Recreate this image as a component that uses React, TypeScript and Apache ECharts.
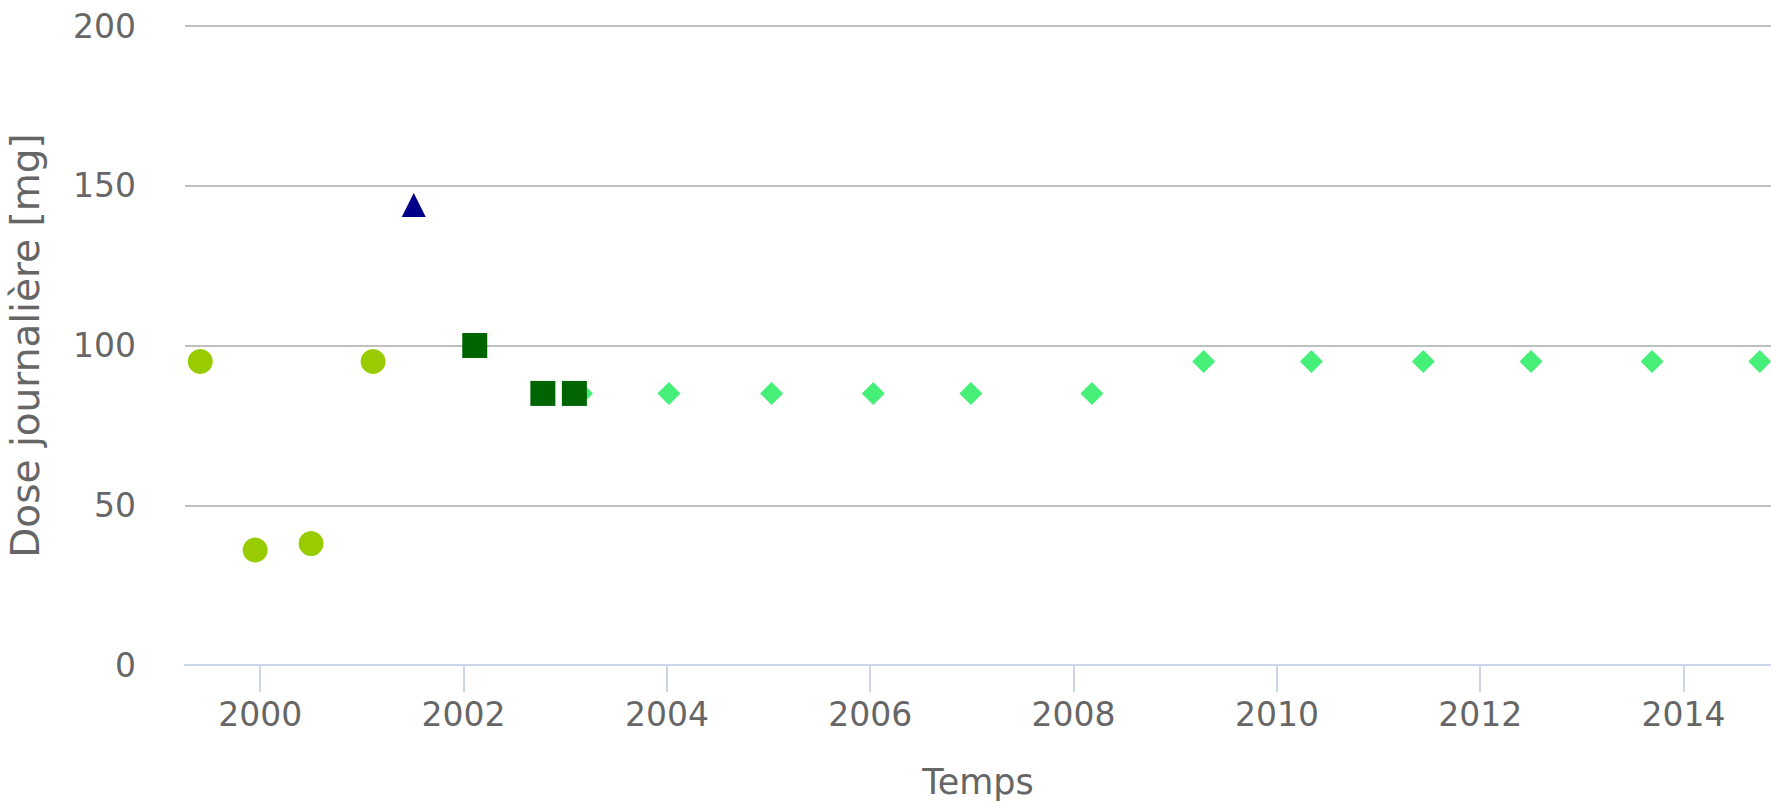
import React, { useEffect, useRef } from "react";
import * as echarts from "echarts";

// Tick labels
const xTickValues = [2000, 2002, 2004, 2006, 2008, 2010, 2012, 2014];

// Series: circles (yellow-green)
const circleYears = [1999.41, 1999.95, 2000.5, 2001.11];
const circleDoses = [95, 36, 38, 95];

// Series: triangle (navy)
const triangleYears = [2001.51];
const triangleDoses = [144];

// Series: squares (dark green)
const squareYears = [2002.11, 2002.78, 2003.09];
const squareDoses = [100, 85, 85];

// Series: diamonds (light green)
const diamondYears = [2003.16, 2004.02, 2005.03, 2006.03, 2006.99, 2008.18, 2009.28, 2010.34, 2011.44, 2012.5, 2013.69, 2014.75];
const diamondDoses = [85, 85, 85, 85, 85, 85, 95, 95, 95, 95, 95, 95];

const pairs = (xs: number[], ys: number[]) => xs.map((x, i) => [x, ys[i]]);

const FONT = "DejaVu Sans";

export default function App() {
  const ref = useRef<HTMLDivElement>(null);
  useEffect(() => {
    if (!ref.current) return;
    const chart = echarts.init(ref.current, undefined, { renderer: "svg" });
    chart.setOption({
      animation: false,
      backgroundColor: "#ffffff",
      grid: { left: 185, right: 0, top: 26, bottom: 139, containLabel: false, outerBoundsMode: "none" },
      xAxis: {
        type: "value",
        min: 1999.26,
        max: 2014.86,
        name: "Temps",
        nameLocation: "middle",
        nameGap: 99,
        nameTextStyle: { color: "#666666", fontSize: 35, fontFamily: FONT },
        axisLine: { show: true, onZero: false, lineStyle: { color: "#ccd6eb", width: 2 } },
        axisTick: { show: true, customValues: xTickValues, length: 27, lineStyle: { color: "#ccd6eb", width: 2 } },
        axisLabel: {
          customValues: xTickValues,
          margin: 33,
          color: "#666666",
          fontSize: 33,
          fontFamily: FONT,
          formatter: (v: number) => String(Math.round(v)),
        },
        splitLine: { show: false },
      },
      yAxis: {
        type: "value",
        min: 0,
        max: 200,
        interval: 50,
        name: "Dose journalière [mg]",
        nameLocation: "middle",
        nameGap: 140,
        nameTextStyle: { color: "#666666", fontSize: 39, fontFamily: FONT },
        axisLine: { show: false },
        axisTick: { show: false },
        axisLabel: { margin: 49, color: "#666666", fontSize: 33, fontFamily: FONT },
        splitLine: { show: true, lineStyle: { color: "#bfbfbf", width: 2 } },
      },
      series: [
        {
          type: "scatter",
          data: pairs(circleYears, circleDoses),
          symbol: "circle",
          symbolSize: 25,
          itemStyle: { color: "#99cc00", opacity: 1 },
        },
        {
          type: "scatter",
          data: pairs(triangleYears, triangleDoses),
          symbol: "triangle",
          symbolSize: [24, 24],
          itemStyle: { color: "#000088", opacity: 1 },
        },
        {
          type: "scatter",
          data: pairs(diamondYears, diamondDoses),
          symbol: "diamond",
          symbolSize: [23, 23],
          itemStyle: { color: "#46ef78", opacity: 1 },
        },
        {
          type: "scatter",
          data: pairs(squareYears, squareDoses),
          symbol: "rect",
          symbolSize: 25,
          itemStyle: { color: "#006400", opacity: 1 },
        },
      ],
    });
    return () => chart.dispose();
  }, []);
  return (
    <div
      ref={ref}
      style={{ position: "fixed", left: 0, top: 0, width: 1771, height: 804, background: "#fff" }}
    />
  );
}
